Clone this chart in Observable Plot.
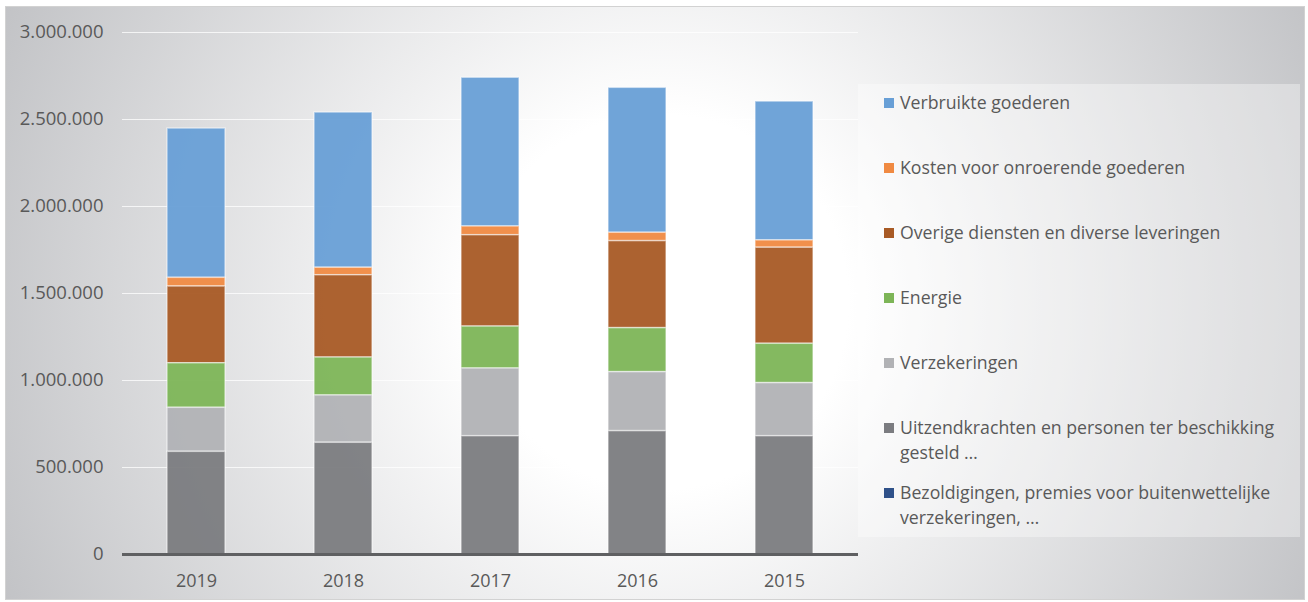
<!DOCTYPE html>
<html><head><meta charset="utf-8">
<script src="https://cdn.jsdelivr.net/npm/d3@7"></script>
<script src="https://cdn.jsdelivr.net/npm/@observablehq/plot@0.6"></script>
<style>
html,body{margin:0;padding:0;background:#fff;}
#frame{position:absolute;left:5px;top:6px;width:1300px;height:594px;box-sizing:border-box;border:1px solid #d2d2d2;
  background:radial-gradient(circle 720px at 655px 295px,#ffffff 0%,#ffffff 26%,#c2c3c6 100%);overflow:hidden;font-family:"Open Sans",sans-serif;}
#chart{position:absolute;left:-1px;top:-1px;}
#legend{position:absolute;left:852px;top:77px;width:442px;height:453px;background:rgba(255,255,255,0.35);}
.item{position:absolute;left:0;width:442px;}
.sw{position:absolute;left:26px;top:8px;width:10px;height:10px;}
.lab{position:absolute;left:42px;top:0;width:396px;font-size:17.7px;line-height:25px;color:#595959;}
</style></head>
<body>
<div id="frame"><div id="chart"></div><div id="legend"></div></div>
<script>
const years = ["2019","2018","2017","2016","2015"];
const seriesNames = [
  "Verbruikte goederen",
  "Kosten voor onroerende goederen",
  "Overige diensten en diverse leveringen",
  "Energie",
  "Verzekeringen",
  "Uitzendkrachten en personen ter beschikking gesteld …",
  "Bezoldigingen, premies voor buitenwettelijke verzekeringen, …"
];
const seriesColors = ["#689fd6","#f08a42","#a85a25","#7db557","#b1b2b5","#7b7c80","#2f5189"];
const verbruikte    = [858000, 892000, 855000, 833000, 798000];
const kosten        = [50000, 43000, 50000, 48000, 42000];
const overige       = [441000, 473000, 525000, 500000, 552000];
const energie       = [256000, 218000, 241000, 253000, 226000];
const verzekeringen = [253000, 272000, 389000, 339000, 305000];
const uitzend       = [590000, 642000, 680000, 709000, 680000];
const bezoldigingen = [0, 0, 0, 0, 0];
const seriesValues = [verbruikte, kosten, overige, energie, verzekeringen, uitzend, bezoldigingen];
const yTicks = [0, 500000, 1000000, 1500000, 2000000, 2500000, 3000000];

const rows = [];
seriesNames.forEach((s, i) => years.forEach((y, j) => rows.push({year: y, series: s, value: seriesValues[i][j]})));
const stackOrder = seriesNames.slice().reverse();
const fmt = d3.formatLocale({decimal: ",", thousands: ".", grouping: [3], currency: ["", ""]}).format(",");

const chart = Plot.plot({
  width: 855, height: 594,
  marginLeft: 117, marginRight: 2, marginTop: 26, marginBottom: 46,
  style: {background: "transparent", fontFamily: "'Open Sans', sans-serif", fontSize: "18px", color: "#595959"},
  x: {domain: years, paddingInner: 0.606, paddingOuter: 0.303, label: null},
  y: {domain: [0, 3000000], label: null},
  color: {domain: seriesNames, range: seriesColors},
  marks: [
    Plot.ruleY(yTicks.slice(1), {stroke: "#ffffff", strokeOpacity: 0.75, strokeWidth: 1}),
    Plot.barY(rows, {x: "year", y: "value", fill: "series", order: stackOrder, stroke: "#ffffff", strokeOpacity: 0.5, strokeWidth: 1.5, fillOpacity: 0.95}),
    Plot.ruleY([0], {stroke: "#5f6062", strokeWidth: 3}),
    Plot.axisY({ticks: yTicks, tickFormat: fmt, tickSize: 0, tickPadding: 19, label: null, fill: "#595959", fontSize: 18.5}),
    Plot.axisX({tickSize: 0, tickPadding: 20, label: null, fill: "#595959", fontSize: 18})
  ]
});
document.getElementById("chart").appendChild(chart);

const legend = document.getElementById("legend");
seriesNames.forEach((s, i) => {
  const it = document.createElement("div");
  it.className = "item";
  it.style.top = (6 + i * 65) + "px";
  const sw = document.createElement("div");
  sw.className = "sw";
  sw.style.background = seriesColors[i];
  const lab = document.createElement("div");
  lab.className = "lab";
  lab.textContent = s;
  it.appendChild(sw); it.appendChild(lab);
  legend.appendChild(it);
});
</script>
</body></html>
